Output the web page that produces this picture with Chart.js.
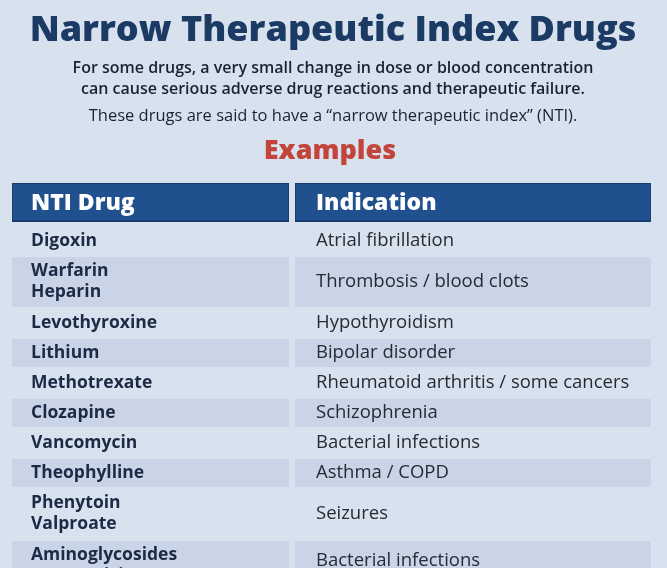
<!DOCTYPE html>
<html>
<head>
<meta charset="utf-8">
<script src="https://cdn.jsdelivr.net/npm/chart.js@4/dist/chart.umd.min.js"></script>
<style>
	html, body { margin: 0; padding: 0; background: #d8e2ef; }
	canvas { display: block; }
</style>
</head>
<body>
<canvas id="ntiTable" width="667" height="568"></canvas>
<script>
"use strict"

const title = "Narrow Therapeutic Index Drugs"
const subtitle = ["For some drugs, a very small change in dose or blood concentration", "can cause serious adverse drug reactions and therapeutic failure."]
const note = "These drugs are said to have a \u201cnarrow therapeutic index\u201d (NTI)."
const examples = "Examples"
const headers = ["NTI Drug", "Indication"]

const drugs = [["Digoxin"], ["Warfarin", "Heparin"], ["Levothyroxine"], ["Lithium"], ["Methotrexate"], ["Clozapine"], ["Vancomycin"], ["Theophylline"], ["Phenytoin", "Valproate"], ["Aminoglycosides", "(gentamicin)"]]
const indications = ["Atrial fibrillation", "Thrombosis / blood clots", "Hypothyroidism", "Bipolar disorder", "Rheumatoid arthritis / some cancers", "Schizophrenia", "Bacterial infections", "Asthma / COPD", "Seizures", "Bacterial infections"]

// row layout in y-scale units
const headerH = 39
const gap = 4
const rowH = (lines) => lines === 1 ? 30 : 52

const tablePlugin = {
	id: "table",
	beforeDraw(chart) {
		const ctx = chart.ctx
		const x = chart.scales.x
		const y = chart.scales.y
		const cols = [[12, 289], [295, 651]]
		const textX = [31, 316]

		ctx.save()
		ctx.fillStyle = "#d8e2ef"
		ctx.fillRect(0, 0, chart.width, chart.height)

		ctx.textAlign = "center"
		ctx.textBaseline = "middle"
		ctx.fillStyle = "#1b3a64"
		ctx.font = "800 36px 'Open Sans'"
		ctx.fillText(title, 333, 31)
		ctx.fillStyle = "#1a2232"
		ctx.font = "600 16px 'Open Sans'"
		ctx.fillText(subtitle[0], 333, 68)
		ctx.fillText(subtitle[1], 333, 89)
		ctx.font = "16.5px 'Open Sans'"
		ctx.fillText(note, 333, 116)
		ctx.fillStyle = "#c2443a"
		ctx.font = "800 27px 'Open Sans'"
		ctx.fillText(examples, 330, 151)

		// header
		ctx.textAlign = "left"
		cols.forEach(([a, b], i) => {
			const top = y.getPixelForValue(0)
			const bottom = y.getPixelForValue(headerH)
			ctx.fillStyle = "#173d6e"
			ctx.fillRect(x.getPixelForValue(a), top, x.getPixelForValue(b) - x.getPixelForValue(a), bottom - top)
			ctx.fillStyle = "#21508f"
			ctx.fillRect(x.getPixelForValue(a) + 1, top + 1, x.getPixelForValue(b) - x.getPixelForValue(a) - 2, bottom - top - 3)
			ctx.fillStyle = "#ffffff"
			ctx.font = "800 23px 'Open Sans'"
			ctx.fillText(headers[i], textX[i], (top + bottom) / 2 + 1)
		})

		let cursor = headerH + gap
		drugs.forEach((names, r) => {
			const h = rowH(names.length)
			const top = y.getPixelForValue(cursor)
			const bottom = y.getPixelForValue(cursor + h)
			if (r % 2 === 1) {
				ctx.fillStyle = "#c9d5e7"
				cols.forEach(([a, b]) => {
					ctx.fillRect(x.getPixelForValue(a), top + 1, x.getPixelForValue(b) - x.getPixelForValue(a), bottom - top - 2)
				})
			}
			const mid = (top + bottom) / 2
			ctx.fillStyle = "#1c2b45"
			ctx.font = "700 17.5px 'Open Sans'"
			const lineGap = 21
			names.forEach((n, k) => {
				ctx.fillText(n, textX[0], mid + (k - (names.length - 1) / 2) * lineGap)
			})
			ctx.fillStyle = "#262b33"
			ctx.font = "18.5px 'Open Sans'"
			const iy = names.length > 1 && r === drugs.length - 1 ? mid - lineGap / 2 + 5 : mid
			ctx.fillText(indications[r], textX[1], iy)
			cursor += h
		})
		ctx.restore()
	},
}

const ctx = document.getElementById("ntiTable").getContext("2d")
const chart = new Chart(ctx, {
	type: "bar",
	data: { labels: [], datasets: [{ data: [] }] },
	options: {
		responsive: false,
		animation: false,
		layout: { padding: { top: 183, left: 0, right: 0, bottom: 0 } },
		plugins: { legend: { display: false }, tooltip: { enabled: false } },
		scales: {
			x: { type: "linear", min: 0, max: 667, offset: false, display: false },
			y: { type: "linear", min: 0, max: 385, offset: false, reverse: true, display: false },
		},
	},
	plugins: [tablePlugin],
})
</script>
</body>
</html>
